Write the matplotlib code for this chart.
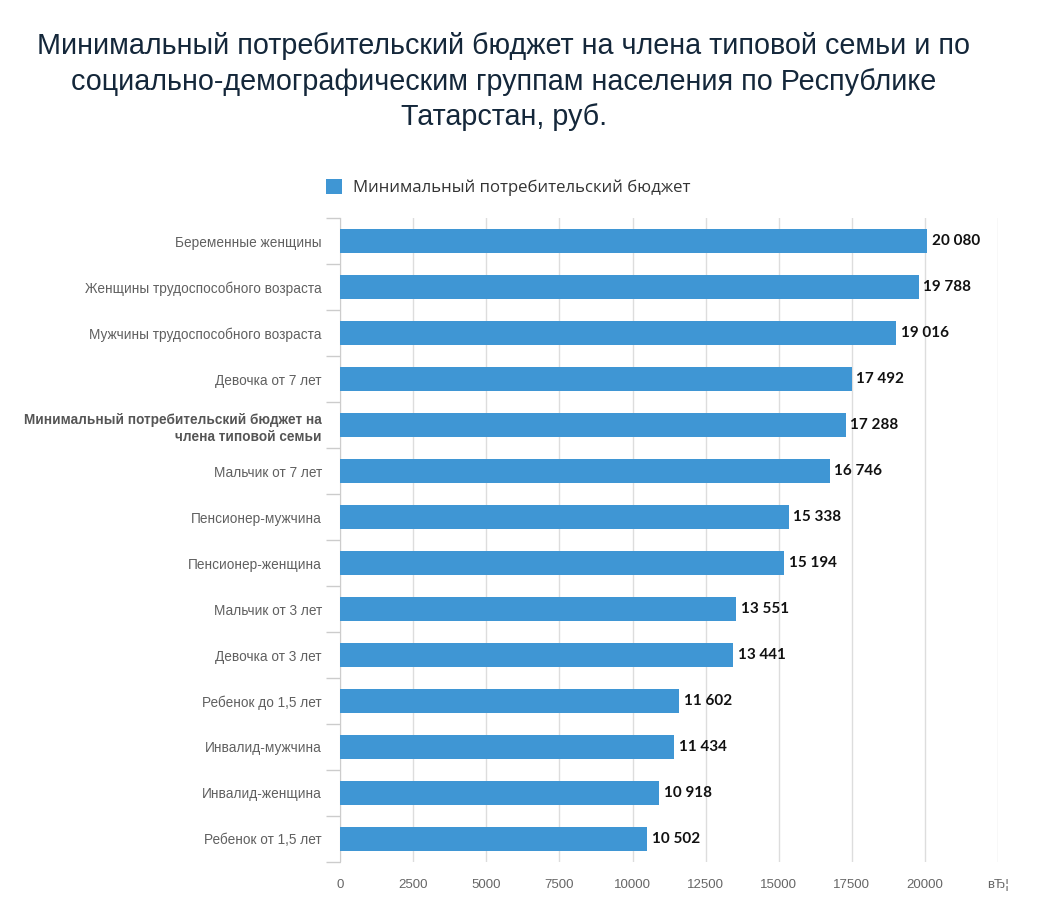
import matplotlib.pyplot as plt
import numpy as np

categories = [
    'Беременные женщины',
    'Женщины трудоспособного возраста',
    'Мужчины трудоспособного возраста',
    'Девочка от 7 лет',
    'Минимальный потребительский бюджет на\nчлена типовой семьи',
    'Мальчик от 7 лет',
    'Пенсионер-мужчина',
    'Пенсионер-женщина',
    'Мальчик от 3 лет',
    'Девочка от 3 лет',
    'Ребенок до 1,5 лет',
    'Инвалид-мужчина',
    'Инвалид-женщина',
    'Ребенок от 1,5 лет',
]
values = [20080, 19788, 19016, 17492, 17288, 16746, 15338,
          15194, 13551, 13441, 11602, 11434, 10918, 10502]
tick_values = [0, 2500, 5000, 7500, 10000, 12500, 15000, 17500, 20000, 22500]
tick_labels = ['0', '2500', '5000', '7500', '10000', '12500', '15000',
               '17500', '20000', 'вЂ¦']
bold_category = 4

bar_color = '#3f96d4'

fig = plt.figure(figsize=(10.54, 9.01), dpi=100)
ax = fig.add_axes([0.3226, 0.0433, 0.6244, 0.7147])

y = np.arange(len(categories))
ax.barh(y, values, height=0.52, color=bar_color, zorder=3,
        label='Минимальный потребительский бюджет')

ax.set_xlim(0, 22500)
ax.set_ylim(len(categories) - 0.5, -0.5)

ax.set_xticks(tick_values)
ax.set_xticklabels(tick_labels, fontfamily='Liberation Sans', fontsize=9.5,
                   color='#666666')
ax.tick_params(axis='x', length=0, pad=12)
ax.xaxis.grid(True, color='#dddddd', linewidth=1, zorder=0)

ax.set_yticks(y)
ax.set_yticklabels(categories, fontfamily='Liberation Sans', fontsize=9.8,
                   color='#606060')
ax.tick_params(axis='y', length=0, pad=13)
for i, lbl in enumerate(ax.get_yticklabels()):
    if i == bold_category:
        lbl.set_fontweight('bold')
        lbl.set_color('#555555')
        lbl.set_linespacing(1.3)

# separators between categories on the left axis
ax.set_yticks(np.arange(-0.5, len(categories), 1), minor=True)
ax.tick_params(axis='y', which='minor', length=10, color='#cccccc', width=1)

for s in ['top', 'right', 'bottom']:
    ax.spines[s].set_visible(False)
ax.spines['left'].set_color('#cccccc')

for yi, v in zip(y, values):
    txt = '{:,}'.format(v).replace(',', ' ')
    ax.text(v + 150, yi, txt, va='center', ha='left', fontfamily='Lato',
            fontweight='bold', fontsize=11, color='#111111', zorder=4)

fig.text(0.478, 0.964,
         'Минимальный потребительский бюджет на члена типовой семьи и по\n'
         'социально-демографическим группам населения по Республике\n'
         'Татарстан, руб.',
         ha='center', va='top', fontfamily='Liberation Sans', fontsize=20.7,
         color='#14273a', linespacing=1.33)

leg = ax.legend(loc='lower center', bbox_to_anchor=(0.255, 1.01), frameon=False,
                prop={'family': 'Open Sans', 'size': 12.1}, handlelength=1.0,
                handleheight=1.0, handletextpad=0.6)
for t in leg.get_texts():
    t.set_color('#333333')

fig.savefig('out.png', dpi=100, facecolor='white')
